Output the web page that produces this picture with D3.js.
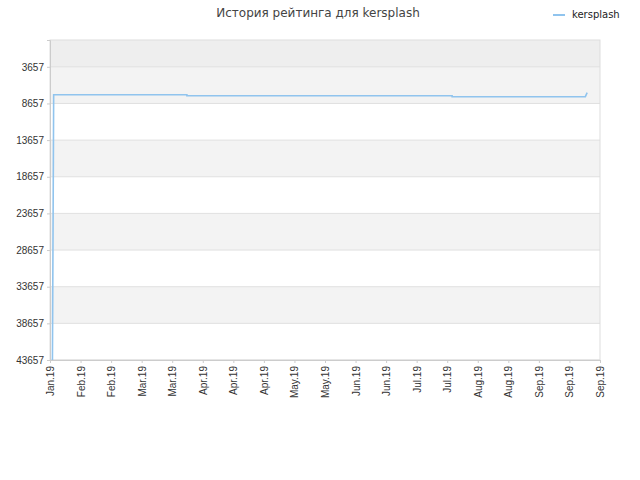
<!DOCTYPE html>
<html><head><meta charset="utf-8">
<script src="https://cdn.jsdelivr.net/npm/d3@7"></script>
<style>body{margin:0;background:#fff;font-family:"DejaVu Sans",sans-serif}</style>
</head><body><div id="chart"></div>
<script>
var tickLabels = ["Jan.19","Feb.19","Feb.19","Mar.19","Mar.19","Apr.19","Apr.19","Apr.19","May.19","May.19","Jun.19","Jun.19","Jul.19","Jul.19","Aug.19","Aug.19","Sep.19","Sep.19","Sep.19"];
var yTicks = [3657, 8657, 13657, 18657, 23657, 28657, 33657, 38657, 43657];
// position in tick-index units, rank
var pointX = [0.08, 0.12, 4.48, 4.48, 13.16, 13.16, 17.52, 17.58];
var pointRank = [43657, 7462, 7462, 7599, 7599, 7735, 7735, 7190];

var svgWidth = 640, svgHeight = 480;
var margin = {top: 40, right: 40, bottom: 120, left: 50};
var width = svgWidth - margin.left - margin.right;
var height = svgHeight - margin.top - margin.bottom;

var svg = d3.select("#chart").append("svg").attr("width", svgWidth).attr("height", svgHeight);
var g = svg.append("g").attr("transform", `translate(${margin.left},${margin.top})`);

var x = d3.scaleLinear().domain([0, tickLabels.length - 1]).range([0, width]);
var y = d3.scaleLinear().domain([0, 43657]).range([0, height]);

// alternating bands
var edges = [0].concat(yTicks);
for (var i = 0; i < edges.length - 1; i++) {
  var fill = i === 0 ? "#eeeeee" : (i % 2 === 1 ? "#f3f3f3" : "#ffffff");
  g.append("rect").attr("x", 0).attr("y", y(edges[i])).attr("width", width)
    .attr("height", y(edges[i + 1]) - y(edges[i])).attr("fill", fill);
}
g.selectAll(".grid").data(yTicks).enter().append("line")
  .attr("x1", 0).attr("x2", width).attr("y1", d => y(d)).attr("y2", d => y(d))
  .attr("stroke", "#e0e0e0");
g.append("rect").attr("width", width).attr("height", height).attr("fill", "none").attr("stroke", "#dddddd");

var yAxis = g.append("g").call(d3.axisLeft(y).tickValues(yTicks).tickSize(3).tickFormat(d3.format("d")));
yAxis.select(".domain").attr("stroke", "#ccc");
yAxis.selectAll("line").attr("stroke", "#ccc");
yAxis.selectAll("text").attr("fill", "#333").attr("font-size", 10);

var xAxis = g.append("g").attr("transform", `translate(0,${height})`)
  .call(d3.axisBottom(x).tickValues(d3.range(tickLabels.length)).tickSize(3).tickFormat(i => tickLabels[i]));
xAxis.select(".domain").attr("stroke", "#ccc");
xAxis.selectAll("line").attr("stroke", "#ccc");
xAxis.selectAll("text").attr("fill", "#333").attr("font-size", 10)
  .attr("text-anchor", "end").attr("transform", "rotate(-90)")
  .attr("x", -6).attr("y", 0).attr("dy", "0.35em");

var pts = pointX.map((d, i) => [d, pointRank[i]]);
g.append("path").datum(pts)
  .attr("d", d3.line().x(d => x(d[0])).y(d => y(d[1])))
  .attr("fill", "none").attr("stroke", "#90c4ee").attr("stroke-width", 1.6);

svg.append("text").attr("x", 318).attr("y", 17).attr("text-anchor", "middle")
  .attr("font-size", 12).attr("fill", "#444").text("История рейтинга для kersplash");
svg.append("line").attr("x1", 553).attr("x2", 565).attr("y1", 15).attr("y2", 15)
  .attr("stroke", "#90c4ee").attr("stroke-width", 2);
svg.append("text").attr("x", 572).attr("y", 18).attr("font-size", 10).attr("fill", "#222").text("kersplash");
</script></body></html>
